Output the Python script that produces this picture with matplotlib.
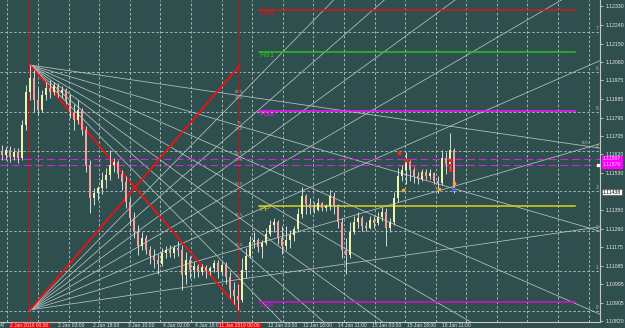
import matplotlib
matplotlib.use('Agg')
import matplotlib.pyplot as plt
import matplotlib.transforms as mtransforms
import numpy as np

# ローソク足 (EURUSD 相当, バー番号順)
open_ = [1.11630, 1.11616, 1.11640, 1.11606, 1.11630, 1.11602, 1.11760, 1.11918, 1.11986, 1.11880,
         1.11832, 1.11904, 1.11938, 1.11918, 1.11947, 1.11914, 1.11928, 1.11880, 1.11822, 1.11784,
         1.11832, 1.11736, 1.11568, 1.11410, 1.11434, 1.11458, 1.11496, 1.11520, 1.11568, 1.11582,
         1.11525, 1.11486, 1.11390, 1.11314, 1.11246, 1.11179, 1.11218, 1.11160, 1.11131, 1.11112,
         1.11093, 1.11146, 1.11160, 1.11146, 1.11170, 1.11160, 1.11040, 1.11112, 1.11064, 1.11083,
         1.11054, 1.11078, 1.11059, 1.11074, 1.11098, 1.11054, 1.11088, 1.11030, 1.10968, 1.10939,
         1.10920, 1.11064, 1.11131, 1.11198, 1.11208, 1.11174, 1.11194, 1.11237, 1.11280, 1.11294,
         1.11218, 1.11179, 1.11208, 1.11232, 1.11261, 1.11333, 1.11419, 1.11381, 1.11362, 1.11352,
         1.11386, 1.11362, 1.11371, 1.11419, 1.11371, 1.11294, 1.11160, 1.11136, 1.11246, 1.11294,
         1.11314, 1.11275, 1.11266, 1.11304, 1.11290, 1.11318, 1.11342, 1.11266, 1.11294, 1.11410,
         1.11515, 1.11544, 1.11582, 1.11544, 1.11515, 1.11501, 1.11534, 1.11515, 1.11530, 1.11491,
         1.11482, 1.11602, 1.11573, 1.11640]
high = [1.11664, 1.11654, 1.11659, 1.11650, 1.11650, 1.11784, 1.11952, 1.12048, 1.12024, 1.11938,
        1.11928, 1.11966, 1.11976, 1.11966, 1.11962, 1.11947, 1.11938, 1.11909, 1.11861, 1.11880,
        1.11842, 1.11755, 1.11592, 1.11458, 1.11467, 1.11534, 1.11554, 1.11640, 1.11602, 1.11592,
        1.11544, 1.11515, 1.11410, 1.11342, 1.11280, 1.11246, 1.11232, 1.11179, 1.11165, 1.11141,
        1.11170, 1.11179, 1.11184, 1.11184, 1.11203, 1.11184, 1.11150, 1.11131, 1.11102, 1.11093,
        1.11093, 1.11088, 1.11083, 1.11112, 1.11112, 1.11102, 1.11102, 1.11054, 1.11006, 1.10997,
        1.11122, 1.11170, 1.11227, 1.11246, 1.11218, 1.11208, 1.11266, 1.11304, 1.11314, 1.11304,
        1.11275, 1.11275, 1.11256, 1.11275, 1.11362, 1.11462, 1.11429, 1.11410, 1.11390, 1.11410,
        1.11390, 1.11381, 1.11448, 1.11438, 1.11381, 1.11314, 1.11218, 1.11294, 1.11323, 1.11342,
        1.11323, 1.11294, 1.11323, 1.11323, 1.11342, 1.11366, 1.11362, 1.11314, 1.11438, 1.11554,
        1.11568, 1.11630, 1.11592, 1.11563, 1.11534, 1.11549, 1.11549, 1.11549, 1.11534, 1.11515,
        1.11640, 1.11630, 1.11722, 1.11650]
low = [1.11592, 1.11592, 1.11582, 1.11592, 1.11578, 1.11592, 1.11736, 1.11880, 1.11822, 1.11808,
       1.11822, 1.11880, 1.11890, 1.11904, 1.11894, 1.11890, 1.11861, 1.11794, 1.11736, 1.11765,
       1.11712, 1.11534, 1.11338, 1.11376, 1.11400, 1.11429, 1.11458, 1.11496, 1.11534, 1.11506,
       1.11448, 1.11362, 1.11280, 1.11218, 1.11136, 1.11160, 1.11141, 1.11093, 1.11074, 1.11045,
       1.11083, 1.11122, 1.11127, 1.11122, 1.11131, 1.10968, 1.10997, 1.11026, 1.11026, 1.11030,
       1.11040, 1.11026, 1.11040, 1.11054, 1.11026, 1.11040, 1.10997, 1.10930, 1.10901, 1.10872,
       1.10910, 1.11026, 1.11122, 1.11170, 1.11150, 1.11122, 1.11184, 1.11227, 1.11246, 1.11189,
       1.11141, 1.11160, 1.11170, 1.11203, 1.11246, 1.11314, 1.11333, 1.11333, 1.11338, 1.11347,
       1.11347, 1.11347, 1.11352, 1.11333, 1.11266, 1.11122, 1.11045, 1.11122, 1.11237, 1.11266,
       1.11251, 1.11251, 1.11261, 1.11266, 1.11280, 1.11299, 1.11179, 1.11246, 1.11280, 1.11390,
       1.11491, 1.11477, 1.11491, 1.11482, 1.11477, 1.11491, 1.11496, 1.11501, 1.11477, 1.11434,
       1.11472, 1.11525, 1.11544, 1.11434]
close = [1.11616, 1.11640, 1.11606, 1.11630, 1.11602, 1.11760, 1.11918, 1.11986, 1.11880, 1.11832,
         1.11904, 1.11938, 1.11918, 1.11947, 1.11914, 1.11928, 1.11880, 1.11822, 1.11784, 1.11832,
         1.11736, 1.11568, 1.11410, 1.11434, 1.11458, 1.11496, 1.11520, 1.11568, 1.11582, 1.11525,
         1.11486, 1.11390, 1.11314, 1.11246, 1.11179, 1.11218, 1.11160, 1.11131, 1.11112, 1.11093,
         1.11146, 1.11160, 1.11146, 1.11170, 1.11160, 1.11040, 1.11112, 1.11064, 1.11083, 1.11054,
         1.11078, 1.11059, 1.11074, 1.11098, 1.11054, 1.11088, 1.11030, 1.10968, 1.10939, 1.10920,
         1.11064, 1.11131, 1.11198, 1.11208, 1.11174, 1.11194, 1.11237, 1.11280, 1.11294, 1.11218,
         1.11179, 1.11208, 1.11232, 1.11261, 1.11333, 1.11419, 1.11381, 1.11362, 1.11352, 1.11386,
         1.11362, 1.11371, 1.11419, 1.11371, 1.11294, 1.11160, 1.11136, 1.11246, 1.11294, 1.11314,
         1.11275, 1.11266, 1.11304, 1.11290, 1.11318, 1.11342, 1.11266, 1.11294, 1.11410, 1.11515,
         1.11544, 1.11582, 1.11544, 1.11515, 1.11501, 1.11534, 1.11515, 1.11530, 1.11491, 1.11482,
         1.11602, 1.11573, 1.11640, 1.11438]

# 価格軸ラベル
price_ticks = [1.12330, 1.12240, 1.12150, 1.12060, 1.11975, 1.11885, 1.11795, 1.11705, 1.11620,
               1.11530, 1.11350, 1.11260, 1.11175, 1.11085, 1.10995, 1.10905, 1.10820]
grid_prices = [1.12206, 1.12015, 1.11824, 1.11633, 1.11442, 1.11251, 1.11060, 1.10869]
grid_marks = ['7', '6', '5', '4', '3', '2', '1', '0']

# 時間軸ラベル (バー番号, テキスト)
time_pos = [14, 22.75, 31.5, 40.25, 48.2, 66.5, 75.25, 84, 92.5, 101.25, 110]
time_labels = ['2 Jan 03:00', '2 Jan 18:00', '3 Jan 10:00', '4 Jan 02:00', '4 Jan 18:00',
               '12 Jan 03:00', '12 Jan 18:00', '14 Jan 11:00', '15 Jan 03:00', '15 Jan 18:00',
               '16 Jan 11:00']
sep_pos = [6.8, 59.3]
sep_labels = ['2 Jan 2019 00:00', '11 Jan 2019 00:00']

# ピボット
pivot_names = ['R78', 'R61', 'R38', 'PP', 'S38']
pivot_prices = [1.12311, 1.12112, 1.11829, 1.11373, 1.10912]
pivot_colors = ['#d41818', '#22c522', '#ff10ff', '#d4d41c', '#d010d0']
pivot_start, pivot_end = 64.25, 143.3

# 水平線 (マゼンタ破線)
alert_prices = [1.11597, 1.11570]
last_price = 1.11438

# ギャンボックス
box_left, box_right = 7.0, 59.5
box_top, box_bottom = 1.12048, 1.10872

BG = '#2f4f4f'
GRID = '#b4c4c4'
FAN = '#b8c2c2'
LBL = dict(family='Liberation Sans')

fig = plt.figure(figsize=(6.25, 3.28), dpi=100)
fig.patch.set_facecolor(BG)
ax = fig.add_axes([0, 6 / 328, 600 / 625, 322 / 328])
ax.set_facecolor(BG)
ytr = mtransforms.blended_transform_factory(ax.transAxes, ax.transData)
xtr = mtransforms.blended_transform_factory(ax.transData, ax.transAxes)

# グリッド
for gx in np.arange(1.325, 149.5, 7.65):
    ax.axvline(gx, color=GRID, lw=0.6, ls=(0, (3, 2.5)), zorder=1)
for gp, gm in zip(grid_prices, grid_marks):
    ax.axhline(gp, color=GRID, lw=0.6, ls=(0, (3, 2.5)), zorder=1)
    ax.text(0.997, gp + 0.00005, gm, transform=ytr, ha='right', va='bottom', fontsize=3.4,
            color='#b8b8b8', **LBL)
ax.text(0.985, 1.11665, '50%', transform=ytr, ha='right', va='bottom', fontsize=3.2, color='#b8b8b8', **LBL)

# 区切り線
for sx in sep_pos:
    ax.axvline(sx, color='#d01010', lw=0.7, zorder=2)

# ギャンファン (両隅から右辺の分割点へ)
h = box_top - box_bottom


def ray(x0, y0, x1, y1, **kw):
    t = 30
    ax.plot([x0, x0 + (x1 - x0) * t], [y0, y0 + (y1 - y0) * t], **kw)


for k in range(1, 8):
    yk = box_top - k * h / 8
    ray(box_left, box_top, box_right, yk, color=FAN, lw=0.55, zorder=2)
    ray(box_left, box_bottom, box_right, yk, color=FAN, lw=0.55, zorder=2)
    v = 100 - 12.5 * k
    lab = '75' if v == 75 else f'{v:.1f}'
    ax.text(box_right - 0.2, yk + 0.00006, lab, ha='center', va='bottom', fontsize=3.2,
            color='#a8b0b0', zorder=4, **LBL)
    if k <= 3:
        ax.text(box_right - 0.2, yk - 0.00004, f'{12.5 * k:.1f}', ha='center', va='top', fontsize=3.2,
                color='#a8b0b0', zorder=4, **LBL)

ax.plot([box_left, box_right], [box_top, box_bottom], color='#f01010', lw=1.3, zorder=3)
ax.plot([box_left, box_right], [box_bottom, box_top], color='#f01010', lw=1.3, zorder=3)

# ピボットライン
for name, p, c in zip(pivot_names, pivot_prices, pivot_colors):
    ax.plot([pivot_start, pivot_end], [p, p], color=c, lw=1.1, zorder=2)
    ax.text(pivot_start + 0.2, p - 0.00003, name, color=c, fontsize=6, va='top', ha='left',
            zorder=4, **LBL)

for p in alert_prices:
    ax.axhline(p, color='#e020e0', lw=0.7, ls=(0, (8, 4)), zorder=2)

# ローソク足
x = np.arange(len(close))
o = np.array(open_)
c = np.array(close)
up = c >= o
ax.vlines(x, low, high, color='#d8dcd8', lw=0.7, zorder=3)
body_b = np.minimum(o, c)
body_h = np.maximum(np.abs(c - o), 0.00002)
ax.bar(x[up], body_h[up], bottom=body_b[up], width=0.6, color='#eef4a8', lw=0, zorder=4)
ax.bar(x[~up], body_h[~up], bottom=body_b[~up], width=0.6, color='#f2a0a0', lw=0, zorder=4)

# パターンマーカー
ax.plot([99.25, 101], [1.11626, 1.11592], 'o', ms=2, color='#ff2020', zorder=5)
ax.plot([101, 108.75], [1.11592, 1.11458], ls=(0, (1, 1.5)), lw=0.8, color='#ff2020', zorder=5)
ax.plot([112, 112, 112], [1.11592, 1.11568, 1.11544], 's', ms=1.5, color='#ff2020', zorder=5)
ax.plot([100.25, 109.25, 113], [1.11448, 1.11453, 1.11482], 's', ms=1.6, color='#ffa020', zorder=5)
ax.plot([112.75], [1.11453], 's', ms=1.6, color='#4060ff', zorder=5)

ax.set_xlim(-0.5, 149.5)
ax.set_ylim(1.10814, 1.12360)

# 軸
for s in ['top', 'left']:
    ax.spines[s].set_visible(False)
for s in ['right', 'bottom']:
    ax.spines[s].set_color('#c8c8c8')
    ax.spines[s].set_linewidth(0.8)
ax.yaxis.tick_right()
ax.set_yticks(price_ticks)
ax.set_yticklabels([f'{p:.5f}' for p in price_ticks], **LBL)
ax.tick_params(axis='y', labelsize=3.7, colors='#e8e8e8', length=2, width=0.5, pad=2)
ax.set_xticks([])

for p in alert_prices:
    ax.text(1.005, p, f'{p:.5f}', transform=ytr, fontsize=3.7, color='#ffd8ff', va='center', ha='left',
            bbox=dict(fc='#ff00ff', ec='#ff00ff', pad=0.5), zorder=6, clip_on=False, **LBL)
ax.text(1.005, last_price, f'{last_price:.5f}', transform=ytr, fontsize=3.7, color='black', va='center',
        ha='left', bbox=dict(fc='white', ec='#404040', pad=0.5, lw=0.4), zorder=6, clip_on=False, **LBL)
ax.plot([148.9], [1.11570], 's', ms=1.5, color='white', zorder=6, clip_on=False)

ax.text(-0.5, -0.004, '47', transform=xtr, fontsize=3.6, color='#e0e0e0', va='top', ha='left', **LBL)
for tp, tl in zip(time_pos, time_labels):
    ax.text(tp, -0.004, tl, transform=xtr, fontsize=3.6, color='#e0e0e0', va='top', ha='left', **LBL)
for sp, sl in zip(sep_pos, sep_labels):
    ax.text(sp, -0.004, sl, transform=xtr, fontsize=3.5, color='#ffd0d0', va='top', ha='center',
            bbox=dict(fc='#e01010', ec='#e01010', pad=0.3), **LBL)

fig.savefig('out.png', dpi=100, facecolor=BG)
